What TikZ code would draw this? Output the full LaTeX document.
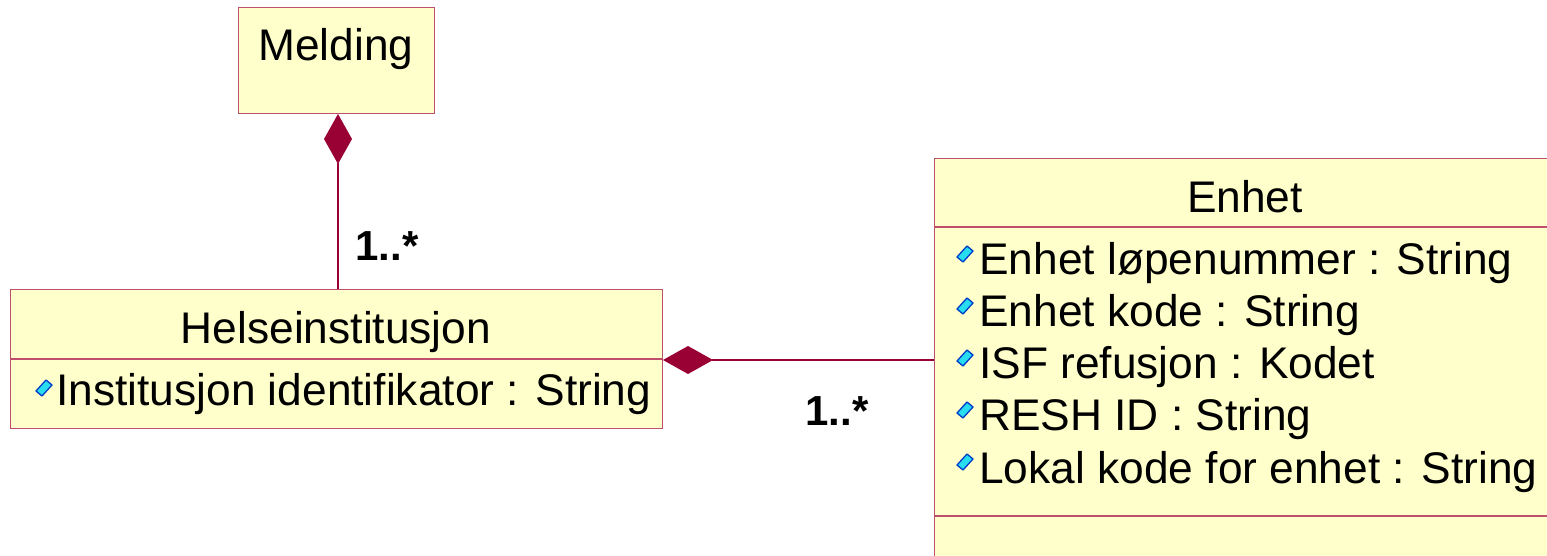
\documentclass[tikz,border=0pt]{standalone}
\usepackage{fontspec}
\setmainfont{Liberation Sans}
\usetikzlibrary{arrows.meta}
\definecolor{umlfill}{RGB}{255,255,204}
\definecolor{umlline}{RGB}{153,0,51}
\definecolor{umlborder}{RGB}{190,80,110}
\definecolor{iconfill}{RGB}{40,220,240}
\definecolor{iconline}{RGB}{0,60,200}
\tikzset{
  classbox/.style={draw=umlborder, fill=umlfill, line width=1.2pt, rectangle, anchor=north west, inner sep=0pt},
  sepline/.style={draw=umlborder, line width=1.2pt},
  titletext/.style={anchor=base, inner sep=0pt, font=\fontsize{44.3}{52}\selectfont},
  attrtext/.style={anchor=base west, inner sep=0pt, font=\fontsize{44.3}{52}\selectfont},
  multtext/.style={anchor=base, inner sep=0pt, font=\fontsize{42}{50}\selectfont\bfseries},
  assoc/.style={draw=umlline, line width=1.2pt},
  comptip/.style={{Diamond[length=50pt,width=28pt,fill=umlline,line width=0pt]}-},
}
\newcommand{\attricon}[2]{%
  \filldraw[fill=iconfill, draw=iconline, line width=1.3pt, line join=round]
    (#1,#2+12) -- (#1+10,#2+1) -- (#1+16,#2+6) -- (#1+6,#2+17) -- cycle;}
\begin{document}
\begin{tikzpicture}[x=1pt,y=-1pt]
\useasboundingbox (0,0) rectangle (1547,556);
\clip (0,0) rectangle (1547,556);
\fill[white] (0,0) rectangle (1547,556);
% Melding
\node[classbox, minimum width=196pt, minimum height=106pt] (mel) at (238,7) {};
\node[titletext] (meltitle) at (336,61) {Melding};
% Helseinstitusjon
\node[classbox, minimum width=652pt, minimum height=139pt] (hel) at (10,289) {};
\draw[sepline] (10,359) -- (662,359);
\node[titletext] (heltitle) at (336,343) {Helseinstitusjon};
\attricon{36}{379}
\node[attrtext] (helattr) at (56,405) {Institusjon identifikator : String};
% Enhet
\node[classbox, minimum width=622pt, minimum height=440pt] (enh) at (934,158) {};
\draw[sepline] (934,227) -- (1556,227);
\draw[sepline] (934,516) -- (1556,516);
\node[titletext] (enhtitle) at (1245,212) {Enhet};
\attricon{957}{245}
\node[attrtext] (ea1) at (979,274) {Enhet løpenummer : String};
\attricon{957}{297}
\node[attrtext] (ea2) at (979,326) {Enhet kode : String};
\attricon{957}{349}
\node[attrtext] (ea3) at (979,378) {ISF refusjon : Kodet};
\attricon{957}{401}
\node[attrtext] (ea4) at (979,430) {RESH ID : String};
\attricon{957}{453}
\node[attrtext] (ea5) at (979,483) {Lokal kode for enhet : String};
% connectors
\coordinate (melbot) at (338,114);
\coordinate (heltop) at (338,289);
\draw[assoc, comptip] (melbot) -- (heltop);
\coordinate (helright) at (663,360);
\coordinate (enhleft) at (934,360);
\draw[assoc, comptip] (helright) -- (enhleft);
\node[multtext] (m1) at (387,260) {1..*};
\node[multtext] (m2) at (837,425) {1..*};
\end{tikzpicture}
\end{document}
